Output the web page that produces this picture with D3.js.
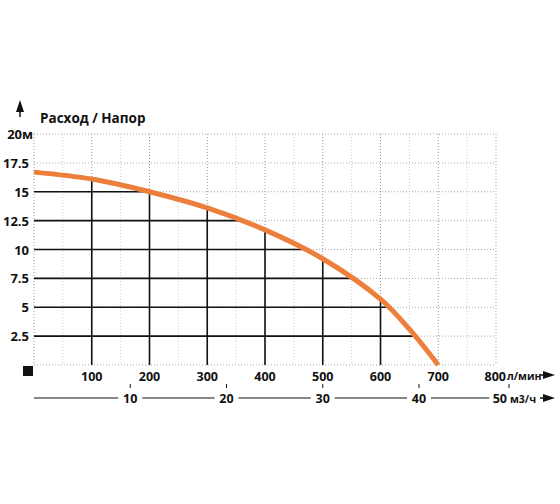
<!DOCTYPE html>
<html><head><meta charset="utf-8">
<script src="https://cdn.jsdelivr.net/npm/d3@7"></script>
<style>body{margin:0;background:#fff}</style>
</head><body><div id="chart"></div>
<script>
// Pump curve: flow (l/min) vs head (m)
const flow = [0, 100, 200, 300, 400, 500, 600, 650, 700];
const head = [16.7, 16.1, 15.0, 13.6, 11.7, 9.2, 5.7, 3.1, 0];
const xTicks = [100, 200, 300, 400, 500, 600, 700, 800];
const yTicks = [2.5, 5, 7.5, 10, 12.5, 15, 17.5, 20];
const m3Ticks = [10, 20, 30, 40, 50];

const width = 560, height = 504;
const svg = d3.select('#chart').append('svg')
  .attr('width', width).attr('height', height)
  .style('font-family', '"Open Sans", sans-serif').style('font-weight', 'bold');

const x = d3.scaleLinear().domain([0, 800]).range([34, 496]);
const y = d3.scaleLinear().domain([0, 20]).range([365, 134]);
const pts = flow.map((f, i) => ({ f, h: head[i] }));

// Curve path (drawn first off-screen to sample for intersections)
const line = d3.line().x(d => x(d.f)).y(d => y(d.h)).curve(d3.curveCatmullRom.alpha(0.5));
const tmp = svg.append('path').datum(pts).attr('d', line).attr('fill', 'none');
const L = tmp.node().getTotalLength();
const samples = d3.range(0, L + 0.5, 0.5).map(l => tmp.node().getPointAtLength(l));
tmp.remove();
const yAtPx = px => samples.reduce((a, b) => Math.abs(b.x - px) < Math.abs(a.x - px) ? b : a).y;
const xAtPy = py => samples.reduce((a, b) => Math.abs(b.y - py) < Math.abs(a.y - py) ? b : a).x;

// Dotted background grid
const g = svg.append('g').attr('stroke', '#aaa').attr('stroke-width', 1).attr('stroke-dasharray', '1,2');
d3.range(0, 801, 50).forEach(v => g.append('line')
  .attr('x1', x(v)).attr('x2', x(v)).attr('y1', y(20)).attr('y2', y(0))
  .attr('stroke', v % 100 ? '#ccc' : '#999'));
d3.range(0, 20.1, 2.5).forEach(v => g.append('line')
  .attr('x1', x(0)).attr('x2', x(800)).attr('y1', y(v)).attr('y2', y(v)));

// Solid black lines up to the curve
const s = svg.append('g').attr('stroke', '#111').attr('stroke-width', 1.6);
xTicks.filter(v => v <= 600).forEach(v => s.append('line')
  .attr('x1', x(v)).attr('x2', x(v)).attr('y1', y(0)).attr('y2', yAtPx(x(v))));
yTicks.filter(v => v <= 15).forEach(v => s.append('line')
  .attr('x1', x(0)).attr('x2', xAtPy(y(v))).attr('y1', y(v)).attr('y2', y(v)));

// Curve
svg.append('path').datum(pts).attr('d', line)
  .attr('fill', 'none').attr('stroke', '#ec7f3b').attr('stroke-width', 5);

// Y labels
yTicks.forEach(v => svg.append('text')
  .attr('x', v === 20 ? 33 : 29).attr('y', y(v) + 5).attr('text-anchor', 'end')
  .attr('font-size', 13).attr('fill', '#111').text(v === 20 ? '20м' : v));

svg.append('text').attr('x', 40).attr('y', 123).attr('font-size', 13.5)
  .attr('fill', '#111').text('Расход / Напор');

// Arrow heads
const arrow = (px, py, dir) => {
  const p = dir === 'up' ? [[px, py], [px - 4, py + 12], [px + 4, py + 12]]
                         : [[px, py], [px - 12, py - 4], [px - 12, py + 4]];
  svg.append('polygon').attr('points', p.map(d => d.join(',')).join(' ')).attr('fill', '#111');
};
svg.append('line').attr('x1', 20).attr('x2', 20).attr('y1', 104).attr('y2', 117).attr('stroke', '#111').attr('stroke-width', 1.5);
arrow(20, 100, 'up');

svg.append('rect').attr('x', 23).attr('y', 366).attr('width', 10).attr('height', 10).attr('fill', '#111');

// X labels (l/min)
xTicks.forEach(v => svg.append('text')
  .attr('x', v === 800 ? x(v) + 10 : x(v)).attr('y', 381)
  .attr('text-anchor', v === 800 ? 'end' : 'middle')
  .attr('font-size', 12.5).attr('fill', '#111').text(v));
svg.append('text').attr('x', 507).attr('y', 380).attr('font-size', 10.5).attr('fill', '#111').text('л/мин');
svg.append('line').attr('x1', 540).attr('x2', 546).attr('y1', 375).attr('y2', 375).attr('stroke', '#111').attr('stroke-width', 1.5);
arrow(555, 375, 'right');

// m3/h axis
const xm = v => x(v * 1000 / 60);
svg.append('line').attr('x1', 34).attr('x2', xm(10) - 12).attr('y1', 398).attr('y2', 398).attr('stroke', '#111');
m3Ticks.slice(0, 4).forEach((v, i) => {
  svg.append('line').attr('x1', xm(v) + 12).attr('x2', xm(m3Ticks[i + 1]) - (i === 3 ? 26 : 12))
    .attr('y1', 398).attr('y2', 398).attr('stroke', '#111');
});
m3Ticks.forEach(v => {
  const px = v === 50 ? 509 : xm(v);
  svg.append('line').attr('x1', px).attr('x2', px).attr('y1', 384).attr('y2', 388).attr('stroke', '#111');
  svg.append('text').attr('x', v === 50 ? 507 : px).attr('y', 403).attr('text-anchor', v === 50 ? 'end' : 'middle')
    .attr('font-size', 12.5).attr('fill', '#111').text(v);
});
svg.append('text').attr('x', 510).attr('y', 403).attr('font-size', 10.5).attr('fill', '#111').text('м3/ч');
svg.append('line').attr('x1', 540).attr('x2', 546).attr('y1', 398).attr('y2', 398).attr('stroke', '#111').attr('stroke-width', 1.5);
arrow(555, 398, 'right');
</script></body></html>
